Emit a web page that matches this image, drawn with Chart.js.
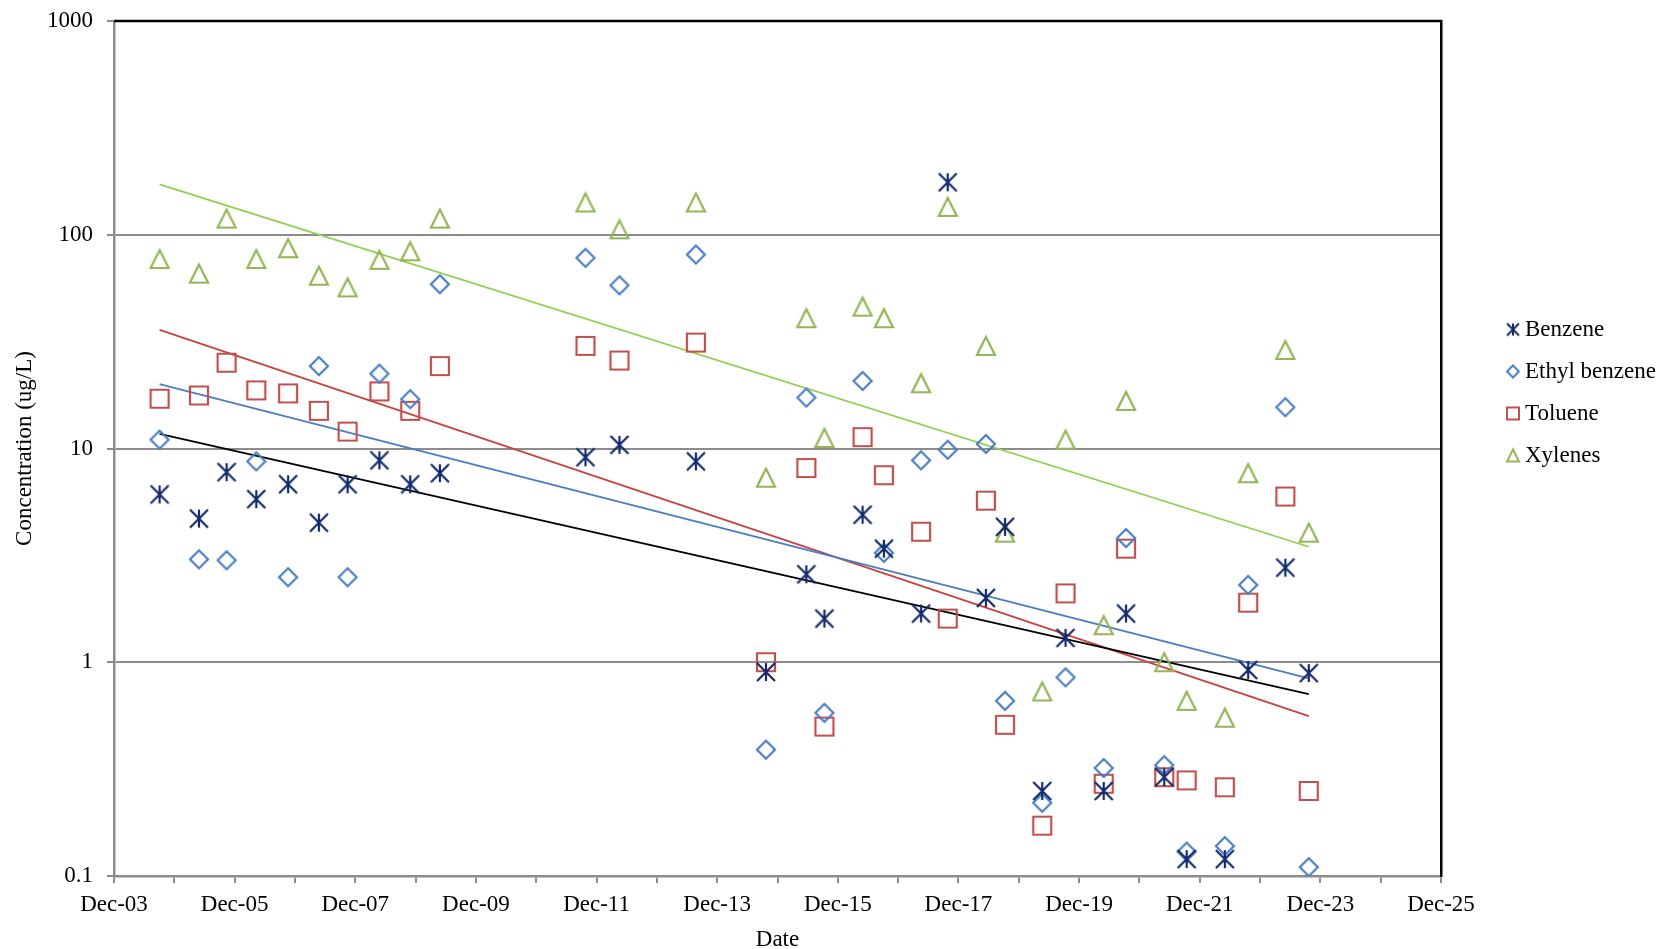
<!DOCTYPE html>
<html>
<head>
<meta charset="utf-8">
<script src="https://cdn.jsdelivr.net/npm/chart.js@4/dist/chart.umd.min.js"></script>
<style>
  html, body { margin: 0; padding: 0; background: #fff; }
  #wrap { width: 1665px; height: 949px; position: relative; }
</style>
</head>
<body>
<div id="wrap"><canvas id="btexChart"></canvas></div>
<script>
// sampling dates, one per monitoring round
const sampleDates = [
  '2004-09-03', '2005-04-28', '2005-10-13', '2006-04-10', '2006-10-20', '2007-04-24',
  '2007-10-15', '2008-04-25', '2008-10-29', '2009-04-26', '2011-09-25', '2012-04-18',
  '2013-07-24', '2014-09-22', '2015-05-23', '2015-09-11', '2016-04-29', '2016-09-06',
  '2017-04-18', '2017-09-27', '2018-05-15', '2018-09-09', '2019-04-21', '2019-09-10',
  '2020-04-28', '2020-09-11', '2021-04-29', '2021-09-13', '2022-05-01', '2022-09-20',
  '2023-05-02', '2023-09-22'
];

// concentrations in ug/L
const benzene = [6.1, 4.7, 7.75, 5.8, 6.8, 4.5, 6.8, 8.8, 6.8, 7.66, 9.1, 10.4, 8.7, 0.9, 2.58, 1.6,
  4.9, 3.4, 1.69, 176, 2.0, 4.3, 0.25, 1.3, 0.25, 1.69, 0.29, 0.12, 0.12, 0.92, 2.77, 0.89];
const ethylBenzene = [11, 3.03, 3.0, 8.7, 2.5, 24.3, 2.5, 22.4, 17, 58.7, 78, 58, 80.8, 0.39, 17.3, 0.58,
  20.7, 3.25, 8.8, 9.86, 10.5, 0.66, 0.22, 0.85, 0.32, 3.81, 0.33, 0.13, 0.138, 2.3, 15.6, 0.11];
const toluene = [17.1, 17.7, 25.2, 18.7, 18.1, 15.0, 12.0, 18.5, 15.0, 24.3, 30.2, 25.8, 31.3, 1.0, 8.1, 0.5,
  11.3, 7.5, 4.08, 1.6, 5.7, 0.51, 0.172, 2.1, 0.27, 3.4, 0.29, 0.28, 0.26, 1.9, 5.96, 0.25];
const xylenes = [77, 65.8, 119, 77, 86.5, 64.3, 56.7, 76.3, 83.7, 119, 141.6, 106, 141.6, 7.3, 40.7, 11.2,
  46.1, 40.7, 20.2, 135, 30.2, 4.04, 0.73, 11, 1.49, 16.7, 1.0, 0.66, 0.55, 7.66, 28.9, 4.04];

// exponential trend lines: value at first and last sampling date
const trendDates = ['2004-09-03', '2023-09-22'];
const benzeneTrend = [11.7, 0.71];
const ethylBenzeneTrend = [20, 0.84];
const tolueneTrend = [35.9, 0.56];
const xylenesTrend = [172, 3.47];

const yTicks = [0.1, 1, 10, 100, 1000];

// months since Dec 2003
function monthIndex(d) {
  const [y, m, dd] = d.split('-').map(Number);
  return (y - 2003) * 12 + (m - 12) + (dd - 1) / 30;
}

function points(values, dates) {
  return values.map((v, i) => ({ x: monthIndex(dates[i]), y: v }));
}

function makeMarker(shape, color, size, lw) {
  const pad = Math.ceil(lw) + 1;
  const c = document.createElement('canvas');
  c.width = c.height = size + pad * 2;
  const g = c.getContext('2d');
  const m = c.width / 2, h = size / 2;
  g.strokeStyle = color;
  g.lineWidth = lw;
  g.beginPath();
  if (shape === 'asterisk') {
    g.moveTo(m - h, m - h); g.lineTo(m + h, m + h);
    g.moveTo(m + h, m - h); g.lineTo(m - h, m + h);
    g.moveTo(m, m - h); g.lineTo(m, m + h);
  } else if (shape === 'diamond') {
    g.moveTo(m, m - h); g.lineTo(m + h, m); g.lineTo(m, m + h); g.lineTo(m - h, m); g.closePath();
  } else if (shape === 'square') {
    g.rect(m - h, m - h, size, size);
  } else {
    g.moveTo(m, m - h); g.lineTo(m + h, m + h); g.lineTo(m - h, m + h); g.closePath();
  }
  g.stroke();
  return c;
}

const series = [
  { label: 'Benzene', data: benzene, trend: benzeneTrend, shape: 'asterisk', color: '#13296B', line: '#000000' },
  { label: 'Ethyl benzene', data: ethylBenzene, trend: ethylBenzeneTrend, shape: 'diamond', color: '#4A7EC2', line: '#4A7EC2' },
  { label: 'Toluene', data: toluene, trend: tolueneTrend, shape: 'square', color: '#C0504D', line: '#C9423F' },
  { label: 'Xylenes', data: xylenes, trend: xylenesTrend, shape: 'triangle', color: '#93B556', line: '#8FD14F' }
];

series.forEach(s => {
  s.marker = makeMarker(s.shape, s.color, 18, 2.2);
  s.legendMarker = makeMarker(s.shape, s.color, 12, 2);
});

const datasets = [];
series.forEach(s => {
  datasets.push({
    label: s.label,
    data: points(s.data, sampleDates),
    pointStyle: s.marker,
    pointRadius: 9,
    borderColor: s.color,
    backgroundColor: s.color
  });
});
series.forEach(s => {
  datasets.push({
    label: s.label + ' trend',
    data: points(s.trend, trendDates),
    showLine: true,
    pointRadius: 0,
    borderColor: s.line,
    borderWidth: 1.8,
    fill: false
  });
});

// black frame along the top of the plot area
const topFrame = {
  id: 'topFrame',
  afterDraw(chart) {
    const { ctx, chartArea: a } = chart;
    ctx.save();
    ctx.strokeStyle = '#000';
    ctx.lineWidth = 2.5;
    ctx.beginPath();
    ctx.moveTo(a.left, a.top);
    ctx.lineTo(a.right + 1, a.top);
    ctx.stroke();
    ctx.restore();
  }
};

Chart.defaults.font.family = "'Liberation Serif', 'Times New Roman', serif";
Chart.defaults.font.size = 23;
Chart.defaults.color = '#000';

new Chart(document.getElementById('btexChart'), {
  type: 'scatter',
  data: { datasets },
  options: {
    responsive: true,
    maintainAspectRatio: false,
    animation: false,
    layout: { padding: { top: 21, right: 5, bottom: 0, left: 2 } },
    plugins: {
      tooltip: { enabled: false },
      legend: {
        position: 'right',
        align: 'start',
        maxWidth: 166.5,
        title: { display: true, text: ' ', font: { size: 10 }, padding: { top: 266, bottom: 0 } },
        labels: {
          usePointStyle: true,
          boxWidth: 1,
          padding: 19,
          font: { size: 23 },
          generateLabels: () => series.map((s, i) => ({
            text: s.label,
            pointStyle: s.legendMarker,
            fillStyle: s.color,
            strokeStyle: s.color,
            lineWidth: 0,
            hidden: false,
            datasetIndex: i
          }))
        }
      }
    },
    scales: {
      x: {
        type: 'linear',
        min: 0,
        max: 264,
        afterBuildTicks: s => {
          s.ticks = [];
          for (let v = 0; v <= 264; v += 12) s.ticks.push({ value: v });
        },
        afterFit: s => { s.height = 73; },
        ticks: {
          autoSkip: false,
          maxRotation: 0,
          padding: 8,
          callback: v => (v % 24 === 0 ? 'Dec-' + String(3 + v / 12).padStart(2, '0') : '')
        },
        grid: { drawOnChartArea: false, color: '#8c8c8c', lineWidth: 2, tickLength: 7 },
        border: { color: '#8c8c8c', width: 2.5 },
        title: { display: true, text: 'Date', padding: { top: 0, bottom: -5 } }
      },
      y: {
        type: 'logarithmic',
        min: 0.1,
        max: 1000,
        afterBuildTicks: s => { s.ticks = yTicks.map(v => ({ value: v })); },
        afterFit: s => {
          s.width = 112;
          s.paddingTop = 0;
          s.paddingBottom = 0;
        },
        ticks: { padding: 14, callback: v => String(v) },
        grid: { color: '#8c8c8c', lineWidth: 2, tickLength: 7 },
        border: { color: '#8c8c8c', width: 2.5 },
        title: { display: true, text: 'Concentration (ug/L)', padding: { top: 9, bottom: 0 } }
      },
      frameRight: {
        type: 'linear',
        position: 'right',
        min: 0,
        max: 1,
        afterFit: s => { s.width = 52.5; },
        ticks: { display: false },
        grid: { display: false },
        border: { display: true, color: '#000', width: 2.5 }
      }
    }
  },
  plugins: [topFrame]
});
</script>
</body>
</html>
